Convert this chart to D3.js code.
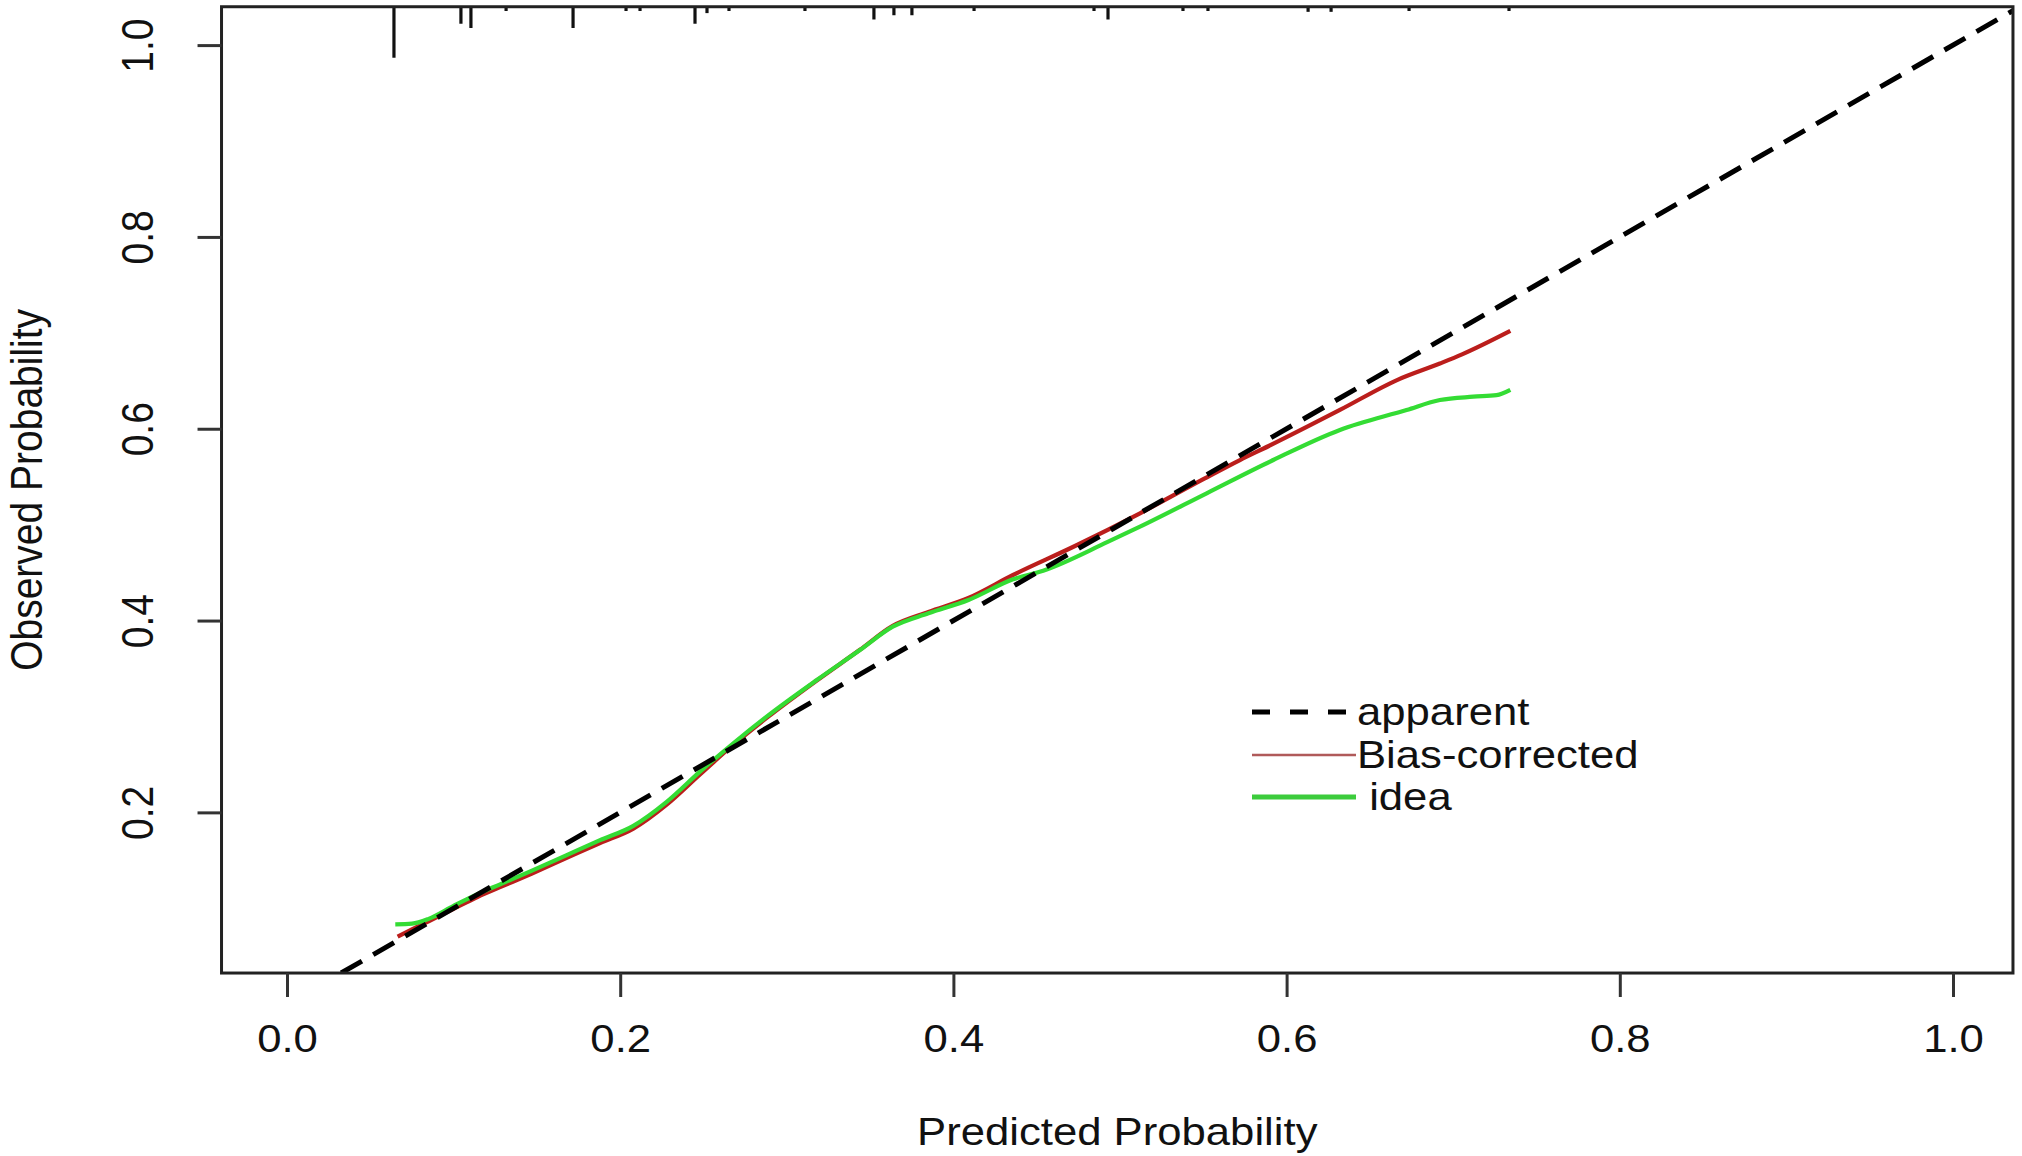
<!DOCTYPE html>
<html>
<head>
<meta charset="utf-8">
<script src="https://cdn.jsdelivr.net/npm/d3@7"></script>
<style>
  html, body { margin: 0; padding: 0; background: #fff; }
  text { font-family: "Liberation Sans", Arial, Helvetica, sans-serif; fill: #111; }
</style>
</head>
<body>
<div id="chart"></div>
<script>
// calibration curves (predicted -> observed)
const biasX = [0.0664, 0.075, 0.085, 0.1, 0.1146, 0.1279, 0.1467, 0.1679, 0.1879, 0.2079, 0.2279, 0.2479, 0.2679, 0.2879, 0.318, 0.3439, 0.3636, 0.385, 0.409, 0.4358, 0.4733, 0.512, 0.5506, 0.572, 0.5893, 0.632, 0.6666, 0.692, 0.7053, 0.7343];
const biasY = [0.0704, 0.078, 0.0865, 0.0995, 0.112, 0.122, 0.136, 0.1525, 0.168, 0.183, 0.208, 0.2395, 0.2705, 0.2985, 0.3375, 0.3695, 0.3945, 0.409, 0.4235, 0.4475, 0.478, 0.5118, 0.548, 0.5674, 0.582, 0.6196, 0.651, 0.668, 0.6775, 0.702];

const ideaX = [0.065, 0.075, 0.085, 0.1, 0.1146, 0.1279, 0.1467, 0.1679, 0.1879, 0.2079, 0.2279, 0.2479, 0.2679, 0.2879, 0.318, 0.3439, 0.3636, 0.385, 0.409, 0.4358, 0.4539, 0.4926, 0.512, 0.552, 0.592, 0.632, 0.672, 0.692, 0.712, 0.726, 0.7343];
const ideaY = [0.0833, 0.084, 0.089, 0.1025, 0.115, 0.125, 0.139, 0.1555, 0.171, 0.186, 0.211, 0.2425, 0.272, 0.2998, 0.338, 0.3693, 0.3936, 0.4076, 0.4214, 0.443, 0.452, 0.482, 0.4979, 0.5327, 0.5674, 0.5987, 0.6195, 0.6299, 0.6334, 0.635, 0.6405];

// distribution of predictions (rug along the top)
const rugX = [0.0642, 0.1044, 0.1104, 0.1315, 0.1717, 0.2035, 0.2119, 0.2449, 0.2521, 0.2653, 0.3109, 0.3523, 0.3643, 0.3751, 0.4124, 0.4844, 0.4928, 0.5378, 0.5528, 0.6129, 0.6267, 0.6735, 0.7335];
const rugN = [12, 4, 5, 1, 5, 1, 1, 4, 1.5, 1, 1, 3, 2, 2, 1, 1, 3, 1, 1, 1.2, 1.2, 1, 1];

const xTicks = [0, 0.2, 0.4, 0.6, 0.8, 1.0];
const yTicks = [0.2, 0.4, 0.6, 0.8, 1.0];
const xLim = [-0.0393, 1.036];
const yLim = [0.0325, 1.040];

const legendLabels = ["apparent", "Bias-corrected", " idea"];

const W = 2022, H = 1156;
const FS = 39, SX = 1.12;

const x = d3.scaleLinear().domain([0, 1]).range([287, 1953]);
const y = d3.scaleLinear().domain([0, 1]).range([1004.2, 45.1]);

const svg = d3.select("#chart").append("svg")
    .attr("width", W)
    .attr("height", H);

svg.append("rect").attr("width", W).attr("height", H).style("fill", "white");

const pLeft = x(xLim[0]), pRight = x(xLim[1]);
const pTop = y(yLim[1]), pBottom = y(yLim[0]);

svg.append("clipPath").attr("id", "plotclip")
    .append("rect")
    .attr("x", pLeft).attr("y", pTop)
    .attr("width", pRight - pLeft).attr("height", pBottom - pTop);

const plot = svg.append("g").attr("clip-path", "url(#plotclip)");

const line = d3.line()
    .x(d => x(d[0]))
    .y(d => y(d[1]))
    .curve(d3.curveMonotoneX);

plot.append("path")
    .datum(biasX.map((v, i) => [v, biasY[i]]))
    .attr("d", line)
    .style("fill", "none")
    .style("stroke", "#bb1e1c")
    .style("stroke-width", 4.2);

plot.append("path")
    .datum(ideaX.map((v, i) => [v, ideaY[i]]))
    .attr("d", line)
    .style("fill", "none")
    .style("stroke", "#34dc34")
    .style("stroke-width", 4.2);

// ideal diagonal
plot.append("line")
    .attr("x1", x(yLim[0])).attr("y1", y(yLim[0]))
    .attr("x2", x(xLim[1])).attr("y2", y(xLim[1]))
    .style("stroke", "black")
    .style("stroke-width", 5)
    .style("stroke-dasharray", "24,13");

// rug
svg.append("g").selectAll("line")
    .data(rugX.map((v, i) => [v, rugN[i]]))
    .join("line")
    .attr("x1", d => x(d[0])).attr("x2", d => x(d[0]))
    .attr("y1", pTop)
    .attr("y2", d => pTop + d[1] * 4.25)
    .style("stroke", "#111")
    .style("stroke-width", 3.2);

// frame
svg.append("rect")
    .attr("x", pLeft).attr("y", pTop)
    .attr("width", pRight - pLeft).attr("height", pBottom - pTop)
    .style("fill", "none")
    .style("stroke", "#222")
    .style("stroke-width", 3);

// axes
const xAxis = svg.append("g")
    .attr("transform", `translate(0,${pBottom})`)
    .call(d3.axisBottom(x).tickValues(xTicks).tickSize(24).tickPadding(27).tickFormat(d3.format(".1f")));
xAxis.select(".domain").remove();
xAxis.selectAll(".tick line").style("stroke", "#333").style("stroke-width", 3);
xAxis.selectAll(".tick text")
    .style("font-size", FS + "px")
    .style("fill", "#111")
    .attr("transform", `scale(${SX},1)`);

const yAxis = svg.append("g")
    .attr("transform", `translate(${pLeft},0)`)
    .call(d3.axisLeft(y).tickValues(yTicks).tickSize(24).tickFormat(d3.format(".1f")));
yAxis.select(".domain").remove();
yAxis.selectAll(".tick line").style("stroke", "#333").style("stroke-width", 3);
yAxis.selectAll(".tick text")
    .attr("x", null).attr("dy", null)
    .attr("text-anchor", "middle")
    .style("font-size", FS + "px")
    .style("fill", "#111")
    .attr("transform", `translate(${153 - pLeft},0) scale(${SX},1) rotate(-90)`);

// axis titles
svg.append("text")
    .attr("transform", `translate(${(pLeft + pRight) / 2},1145) scale(${SX},1)`)
    .attr("text-anchor", "middle")
    .style("font-size", FS + "px")
    .text("Predicted Probability");

svg.append("text")
    .attr("transform", `translate(42,${(pTop + pBottom) / 2}) scale(${SX},1) rotate(-90)`)
    .attr("text-anchor", "middle")
    .style("font-size", FS + "px")
    .text("Observed Probability");

// legend
const legStyles = [
    { stroke: "black", width: 5, dash: "18,20" },
    { stroke: "#b05a5a", width: 2.6, dash: null },
    { stroke: "#3ccc3c", width: 5, dash: null }
];
const legRowY = [712, 755, 797];
const leg = svg.append("g");
legendLabels.forEach((lab, i) => {
    leg.append("line")
        .attr("x1", 1252).attr("x2", 1356)
        .attr("y1", legRowY[i]).attr("y2", legRowY[i])
        .style("stroke", legStyles[i].stroke)
        .style("stroke-width", legStyles[i].width)
        .style("stroke-dasharray", legStyles[i].dash);
    leg.append("text")
        .attr("transform", `translate(1357,${legRowY[i] + 13}) scale(${SX},1)`)
        .style("font-size", FS + "px")
        .style("white-space", "pre")
        .text(lab);
});
</script>
</body>
</html>
